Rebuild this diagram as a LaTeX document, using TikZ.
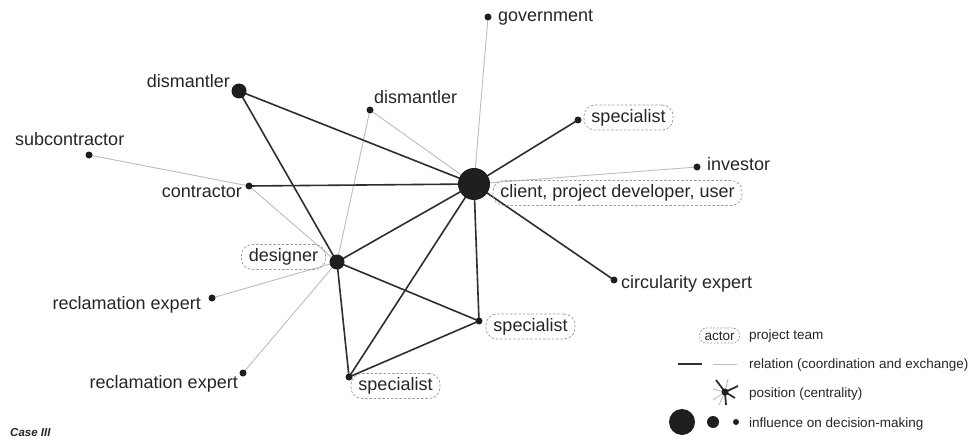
\documentclass[tikz,border=0pt]{standalone}
\usepackage{fontspec}
\setmainfont{Liberation Sans}
\definecolor{ink}{HTML}{1E1E1E}
\definecolor{txt}{HTML}{262626}
\definecolor{strong}{HTML}{2E2E2E}
\definecolor{weak}{HTML}{BDBDBD}
\definecolor{dashc}{HTML}{9A9A9A}
\begin{document}
\begin{tikzpicture}[x=1pt,y=-1pt,
  dot/.style={circle,fill=ink,inner sep=0pt,minimum size=7pt},
  lbl/.style={inner sep=0pt,font=\fontsize{18}{20}\selectfont,text=txt},
  team/.style={draw=dashc,dashed,dash pattern=on 2.5pt off 1.8pt,line width=0.7pt,rounded corners=11pt,
     inner xsep=7.5pt,inner ysep=0pt,minimum height=25pt,text height=13pt,text depth=4pt,
     font=\fontsize{18}{20}\selectfont,text=txt},
  leg/.style={inner sep=0pt,font=\fontsize{13.5}{15}\selectfont,text=txt,anchor=base west},
  rel/.style={draw=strong,line width=1.6pt},
  weakrel/.style={draw=weak,line width=0.9pt}]
\useasboundingbox[fill=white] (0,0) rectangle (971,441);

% relations (drawn first, between named actor coordinates)
\coordinate (cl) at (474,184);
\coordinate (gov) at (488,17);
\coordinate (dm1) at (239,91);
\coordinate (dm2) at (370,110);
\coordinate (spT) at (578,120);
\coordinate (sub) at (89,155);
\coordinate (con) at (249,186);
\coordinate (inv) at (697,167);
\coordinate (des) at (337,262);
\coordinate (circ) at (614,280);
\coordinate (rec1) at (212,298);
\coordinate (spM) at (479,321);
\coordinate (rec2) at (243,373);
\coordinate (spB) at (349,377);

\draw[weakrel] (gov) -- (cl);
\draw[weakrel] (dm2) -- (cl);
\draw[weakrel] (dm2) -- (des);
\draw[weakrel] (sub) -- (con);
\draw[weakrel] (con) -- (des);
\draw[weakrel] (inv) -- (cl);
\draw[weakrel] (des) -- (rec1);
\draw[weakrel] (des) -- (rec2);
\draw[rel] (dm1) -- (cl);
\draw[rel] (dm1) -- (des);
\draw[rel] (con) -- (cl);
\draw[rel] (cl) -- (spT);
\draw[rel] (cl) -- (des);
\draw[rel] (cl) -- (circ);
\draw[rel] (cl) -- (spM);
\draw[rel] (cl) -- (spB);
\draw[rel] (des) -- (spM);
\draw[rel] (des) -- (spB);
\draw[rel] (spB) -- (spM);

% actors (dots)
\node[dot,minimum size=32pt] (ncl) at (cl) {};
\node[dot] (ngov) at (gov) {};
\node[dot,minimum size=15pt] (ndm1) at (dm1) {};
\node[dot] (ndm2) at (dm2) {};
\node[dot] (nspT) at (spT) {};
\node[dot] (nsub) at (sub) {};
\node[dot] (ncon) at (con) {};
\node[dot] (ninv) at (inv) {};
\node[dot,minimum size=15pt] (ndes) at (des) {};
\node[dot] (ncirc) at (circ) {};
\node[dot] (nrec1) at (rec1) {};
\node[dot] (nspM) at (spM) {};
\node[dot] (nrec2) at (rec2) {};
\node[dot] (nspB) at (spB) {};

% labels
\node[lbl,anchor=base west] (tgov) at (498,22) {government};
\node[lbl,anchor=base east] (tdm1) at (230,88) {dismantler};
\node[lbl,anchor=base west] (tdm2) at (374,104) {dismantler};
\node[lbl,anchor=base west] (tsub) at (15,146) {subcontractor};
\node[lbl,anchor=base east] (tcon) at (242,197) {contractor};
\node[lbl,anchor=base west] (tinv) at (707,170) {investor};
\node[lbl,anchor=base west] (tcirc) at (621,288) {circularity expert};
\node[lbl,anchor=base east] (trec1) at (201,309) {reclamation expert};
\node[lbl,anchor=base east] (trec2) at (238,388) {reclamation expert};
\node[team] (tspT) at (628.5,117.5) {specialist};
\node[team] (tcl) at (617.5,193) {client, project developer, user};
\node[team] (tdes) at (283.5,257) {designer};
\node[team] (tspM) at (530.5,326.5) {specialist};
\node[team] (tspB) at (395.5,386) {specialist};

\node[inner sep=0pt,anchor=base west,font=\fontsize{11.5}{13}\selectfont\bfseries\itshape,text=txt] (case) at (10,436) {Case III};

% legend
\node[team,font=\fontsize{13.5}{15}\selectfont,minimum height=15pt,text height=10pt,text depth=1pt,inner xsep=5pt,rounded corners=7pt,dash pattern=on 2pt off 1.5pt] (lact) at (719.5,335.5) {actor};
\node[leg] (lteam) at (749,339) {project team};
\coordinate (ls1) at (678,364);
\coordinate (ls2) at (702,364);
\coordinate (lw1) at (713,364);
\coordinate (lw2) at (737,364);
\draw[rel] (ls1) -- (ls2);
\draw[weakrel] (lw1) -- (lw2);
\node[leg] (lrel) at (749,368) {relation (coordination and exchange)};
\coordinate (lstar) at (725,392);
\foreach \dx/\dy in {3/-13,-12/8,-6/13,-12/-3}
  \draw[weak,line width=0.9pt] (lstar) -- ++(\dx,\dy);
\foreach \dx/\dy in {-9/-12,13/-6,10/6,1/13}
  \draw[strong,line width=1.8pt] (lstar) -- ++(\dx,\dy);
\node[dot,minimum size=7pt] (lstarn) at (lstar) {};
\node[leg] (lpos) at (749,397) {position (centrality)};
\node[dot,minimum size=26pt] (lbig) at (682,422) {};
\node[dot,minimum size=12pt] (lmid) at (713,422) {};
\node[dot,minimum size=6pt] (lsml) at (736,422) {};
\node[leg] (linf) at (749,427) {influence on decision-making};
\end{tikzpicture}
\end{document}
